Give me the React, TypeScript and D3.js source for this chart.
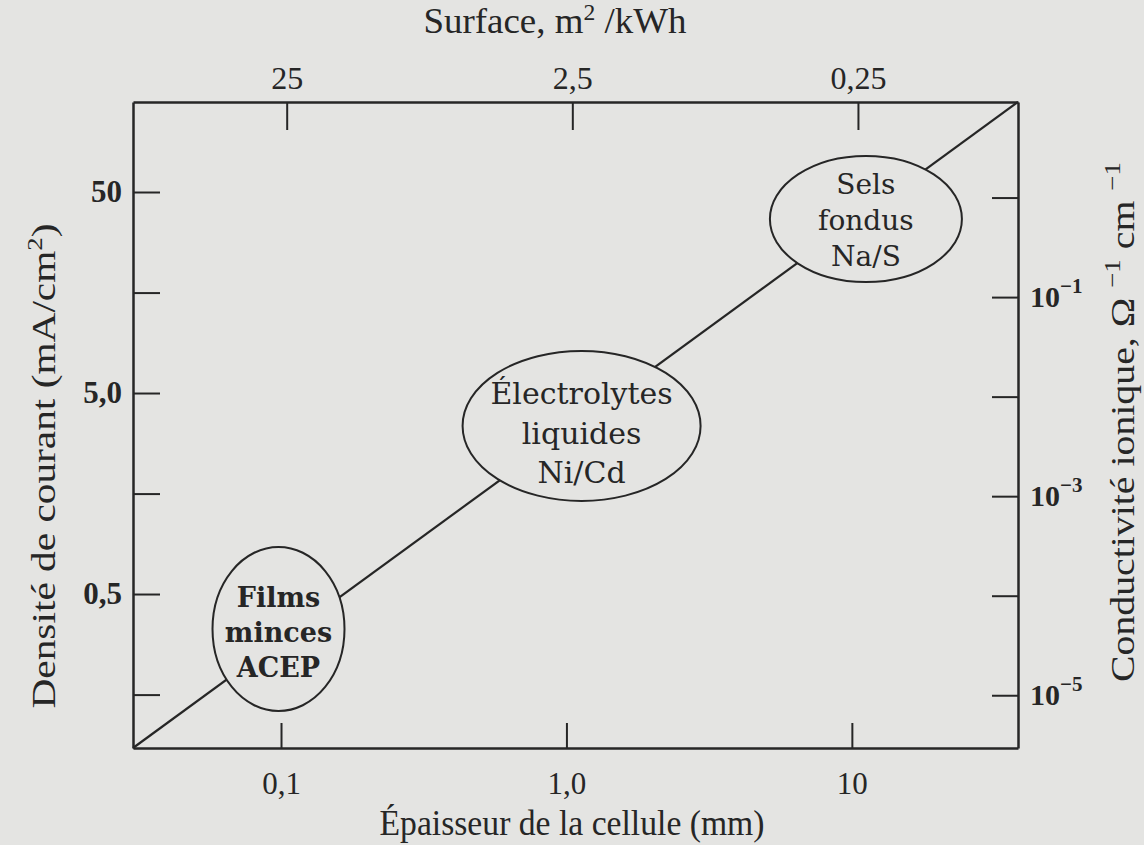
import React, { useRef, useEffect } from 'react';
import * as d3 from 'd3';

const width = 1144;
const height = 845;
const box = { left: 133, right: 1018, top: 102, bottom: 748 };

// bottom axis: épaisseur de la cellule (mm)
const thicknessDomain = [0.0303, 38.2];
const thicknessTicks = [0.1, 1, 10];
const thicknessLabels = ['0,1', '1,0', '10'];

// top axis: surface, m2/kWh
const surfaceDomain = [86.3, 0.0688];
const surfaceTicks = [25, 2.5, 0.25];
const surfaceLabels = ['25', '2,5', '0,25'];

// left axis: densité de courant (mA/cm2)
const currentDomain = [0.0857, 140.2];
const currentTicks = [50, 15.8, 5, 1.58, 0.5, 0.158];
const currentLabels = ['50', '', '5,0', '', '0,5', ''];

// right axis: conductivité ionique
const condDomain = [Math.pow(10, -5.53), Math.pow(10, 0.96)];
const condTicks = [1, 1e-1, 1e-2, 1e-3, 1e-4, 1e-5];
const condExponents = ['', '−1', '', '−3', '', '−5'];

// trend line (corner to corner)
const lineThickness = [0.0303, 38.2];
const lineCurrent = [0.0857, 140.2];

// technologies
const techLines = [['Films', 'minces', 'ACEP'], ['Électrolytes', 'liquides', 'Ni/Cd'], ['Sels', 'fondus', 'Na/S']];
const techThickness = [0.098, 1.13, 11.2];
const techCurrent = [0.335, 3.43, 36.7];

const bg = '#e4e4e2';
const ink = '#262626';
const times = '"Liberation Serif", serif';
const century = '"DejaVu Serif", serif';

export default function App() {
  const svgRef = useRef<SVGSVGElement>(null);

  useEffect(() => {
    const svg = d3.select(svgRef.current);
    svg.selectAll('*').remove();

    const x = d3.scaleLog().domain(thicknessDomain).range([box.left, box.right]);
    const xTop = d3.scaleLog().domain(surfaceDomain).range([box.left, box.right]);
    const y = d3.scaleLog().domain(currentDomain).range([box.bottom, box.top]);
    const yRight = d3.scaleLog().domain(condDomain).range([box.bottom, box.top]);

    svg.append('rect').attr('width', width).attr('height', height).attr('fill', bg);

    const styleAxis = (g, size, bold) => {
      g.select('.domain').attr('stroke', ink).attr('stroke-width', 2.5);
      g.selectAll('.tick line').attr('stroke', ink).attr('stroke-width', 2);
      g.selectAll('.tick text')
        .attr('fill', ink)
        .attr('font-family', times)
        .attr('font-size', size)
        .attr('font-weight', bold ? 'bold' : 'normal');
    };

    svg.append('g')
      .attr('transform', `translate(0,${box.bottom})`)
      .call(d3.axisBottom(x).tickValues(thicknessTicks).tickSize(-25).tickSizeOuter(0).tickPadding(24)
        .tickFormat((d, i) => thicknessLabels[i]))
      .call(g => styleAxis(g, 31, false));

    svg.append('g')
      .attr('transform', `translate(0,${box.top})`)
      .call(d3.axisTop(xTop).tickValues(surfaceTicks).tickSize(-28).tickSizeOuter(0).tickPadding(13)
        .tickFormat((d, i) => surfaceLabels[i]))
      .call(g => styleAxis(g, 32, false));

    svg.append('g')
      .attr('transform', `translate(${box.left},0)`)
      .call(d3.axisLeft(y).tickValues(currentTicks).tickSize(-27).tickSizeOuter(0).tickPadding(11)
        .tickFormat((d, i) => currentLabels[i]))
      .call(g => styleAxis(g, 31, true));

    const right = svg.append('g')
      .attr('transform', `translate(${box.right},0)`)
      .call(d3.axisRight(yRight).tickValues(condTicks).tickSize(-26).tickSizeOuter(0).tickFormat(() => ''))
      .call(g => styleAxis(g, 29, true));

    right.selectAll('.tick').each(function (d, i) {
      if (!condExponents[i]) return;
      const t = d3.select(this).append('text')
        .attr('x', 12).attr('y', 9)
        .attr('fill', ink).attr('font-family', times).attr('font-weight', 'bold')
        .attr('font-size', 30).attr('text-anchor', 'start');
      t.append('tspan').text('10');
      t.append('tspan').attr('dy', -14).attr('font-size', 21).text(condExponents[i]);
    });

    // trend line
    const pts = lineThickness.map((t, i) => [x(t), y(lineCurrent[i])]);
    svg.append('path')
      .attr('d', d3.line()(pts))
      .attr('stroke', ink).attr('stroke-width', 2.2).attr('fill', 'none');

    // technology ellipses
    const radii = [[66, 82], [119, 75], [96, 63]];
    const fontSizes = [27, 30, 28];
    const weights = ['bold', 'normal', 'normal'];
    const spacing = [35, 39.5, 36];
    const midBase = [13, 18, 11];

    techLines.forEach((lines, i) => {
      const cx = x(techThickness[i]);
      const cy = y(techCurrent[i]);
      const g = svg.append('g');
      g.append('ellipse')
        .attr('cx', cx).attr('cy', cy)
        .attr('rx', radii[i][0]).attr('ry', radii[i][1])
        .attr('fill', bg).attr('stroke', ink).attr('stroke-width', 2);
      g.selectAll('text')
        .data(lines)
        .join('text')
        .attr('x', cx)
        .attr('y', (d, j) => cy + midBase[i] + (j - 1) * spacing[i])
        .attr('text-anchor', 'middle')
        .attr('fill', ink)
        .attr('font-family', century)
        .attr('font-size', fontSizes[i])
        .attr('font-weight', weights[i])
        .text(d => d);
    });

    // axis titles
    const top = svg.append('text')
      .attr('x', 555).attr('y', 33)
      .attr('text-anchor', 'middle')
      .attr('fill', ink).attr('font-family', times).attr('font-size', 36)
      .attr('textLength', 263).attr('lengthAdjust', 'spacingAndGlyphs');
    top.append('tspan').text('Surface, m');
    top.append('tspan').attr('dy', -13).attr('font-size', 23).text('2');
    top.append('tspan').attr('dy', 13).text(' /kWh');

    svg.append('text')
      .attr('x', 572).attr('y', 835)
      .attr('text-anchor', 'middle')
      .attr('fill', ink).attr('font-family', times).attr('font-size', 36)
      .attr('textLength', 385).attr('lengthAdjust', 'spacingAndGlyphs')
      .text('Épaisseur de la cellule (mm)');

    const left = svg.append('text')
      .attr('transform', 'translate(55,466) rotate(-90)')
      .attr('text-anchor', 'middle')
      .attr('fill', ink).attr('font-family', times).attr('font-size', 34)
      .attr('textLength', 485).attr('lengthAdjust', 'spacingAndGlyphs');
    left.append('tspan').text('Densité de courant (mA/cm');
    left.append('tspan').attr('dy', -13).attr('font-size', 22).text('2');
    left.append('tspan').attr('dy', 13).text(')');

    const rt = svg.append('text')
      .attr('transform', 'translate(1134,422) rotate(-90)')
      .attr('text-anchor', 'middle')
      .attr('fill', ink).attr('font-family', times).attr('font-size', 34)
      .attr('textLength', 520).attr('lengthAdjust', 'spacingAndGlyphs');
    rt.append('tspan').text('Conductivité ionique, Ω ');
    rt.append('tspan').attr('dy', -14).attr('font-size', 23).text('−1');
    rt.append('tspan').attr('dy', 14).text(' cm ');
    rt.append('tspan').attr('dy', -14).attr('font-size', 23).text('−1');
  }, []);

  return (
    <svg ref={svgRef} width={width} height={height}
      style={{ position: 'absolute', left: 0, top: 0, display: 'block' }} />
  );
}
